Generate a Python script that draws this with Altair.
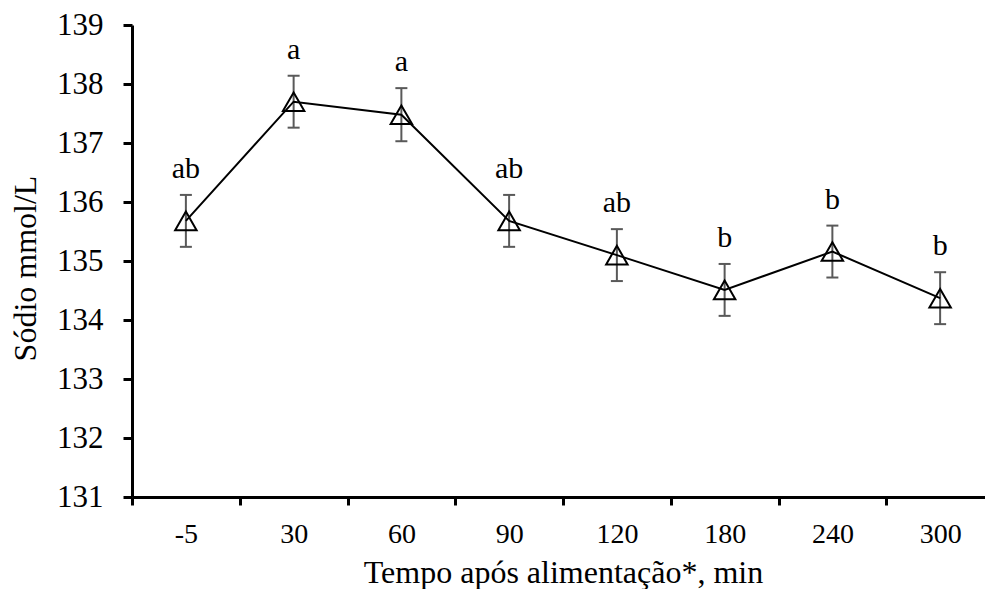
import altair as alt
import pandas as pd

times = ["-5", "30", "60", "90", "120", "180", "240", "300"]
means = [135.68, 137.70, 137.48, 135.68, 135.10, 134.51, 135.16, 134.37]
se = [0.44, 0.44, 0.45, 0.44, 0.44, 0.44, 0.44, 0.44]
letters = ["ab", "a", "a", "ab", "ab", "b", "b", "b"]

df = pd.DataFrame({"time": times, "mean": means, "se": se, "letter": letters})

FONT = "Liberation Serif"

xenc = alt.X(
    "time:N",
    sort=times,
    scale=alt.Scale(type="band", domain=times, range=[0, 862], paddingInner=0, paddingOuter=0),
    axis=alt.Axis(
        title="Tempo após alimentação*, min",
        labelAngle=0,
        labelFont=FONT,
        labelFontSize=28,
        labelColor="black",
        labelBaseline="alphabetic",
        labelPadding=37,
        tickBand="extent",
        tickSize=8,
        tickWidth=3,
        tickColor="black",
        domainColor="black",
        domainWidth=3,
        titleFont=FONT,
        titleFontSize=32,
        titleFontWeight="normal",
        titleColor="black",
        titleBaseline="alphabetic",
        titleY=85,
        grid=False,
    ),
)

yscale = alt.Scale(domain=[131, 139], nice=False, zero=False)
yaxis = alt.Axis(
    title="Sódio mmol/L",
    values=[131, 132, 133, 134, 135, 136, 137, 138, 139],
    format="d",
    labelFont=FONT,
    labelFontSize=31,
    labelColor="black",
    labelPadding=20,
    tickSize=9,
    tickWidth=3,
    tickColor="black",
    domainColor="black",
    domainWidth=3,
    titleFont=FONT,
    titleFontSize=32,
    titleFontWeight="normal",
    titleColor="black",
    titleAngle=-90,
    titleAlign="center",
    titleBaseline="alphabetic",
    titleX=-97,
    titleY=243,
    grid=False,
)

base = alt.Chart(df).transform_calculate(
    lo="datum.mean - datum.se", hi="datum.mean + datum.se"
)

err = base.mark_rule(color="#595959", strokeWidth=2).encode(
    x=xenc, y=alt.Y("lo:Q", scale=yscale, axis=yaxis), y2="hi:Q"
)
cap_hi = base.mark_tick(color="#595959", thickness=2, size=12, opacity=1).encode(
    x=xenc, y=alt.Y("hi:Q", scale=yscale)
)
cap_lo = base.mark_tick(color="#595959", thickness=2, size=12, opacity=1).encode(
    x=xenc, y=alt.Y("lo:Q", scale=yscale)
)
line = base.mark_line(color="black", strokeWidth=2).encode(
    x=xenc, y=alt.Y("mean:Q", scale=yscale)
)
pts = base.mark_point(
    shape="triangle-up", filled=False, stroke="black", strokeWidth=2, size=460, opacity=1
).encode(x=xenc, y=alt.Y("mean:Q", scale=yscale))
txt = base.mark_text(
    font=FONT, fontSize=30, color="black", baseline="alphabetic", dy=-17
).encode(x=xenc, y=alt.Y("hi:Q", scale=yscale), text="letter:N")

chart = (
    alt.layer(err, cap_hi, cap_lo, line, pts, txt)
    .properties(
        width=853,
        height=472,
        autosize=alt.AutoSizeParams(type="none"),
        padding={"left": 132, "top": 25, "right": 0, "bottom": 92},
        background="white",
    )
    .configure_view(stroke=None)
)

chart.save("out.html", embed_options={"renderer": "svg", "actions": False})
